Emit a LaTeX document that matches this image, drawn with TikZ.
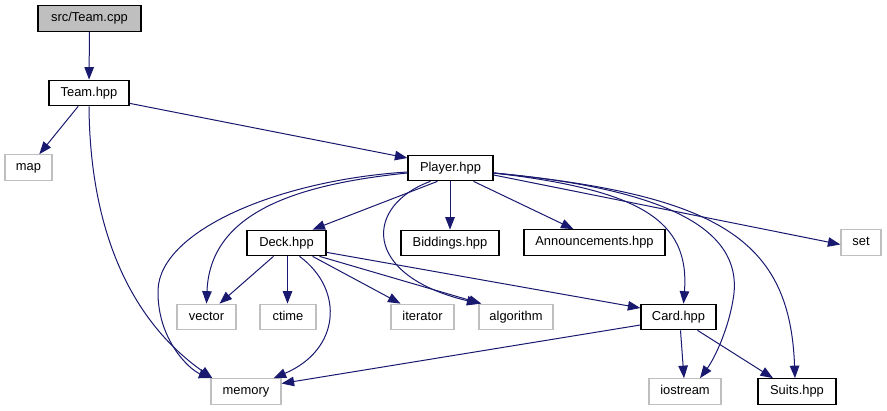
\documentclass[tikz,border=0pt]{standalone}
\usepackage{fontspec}
\setmainfont{Liberation Sans}
\usetikzlibrary{arrows.meta,calc}
\definecolor{edgec}{HTML}{191970}
\definecolor{grayb}{HTML}{BFBFBF}
\begin{document}
\begin{tikzpicture}[x=1pt,y=-1pt,
  box/.style={draw=black, fill=white, line width=1.2pt, inner sep=0pt,
    minimum height=25.5pt, font=\fontsize{12.9}{15}\selectfont,
    text height=9.4pt, text depth=2.6pt},
  ext/.style={box, draw=grayb},
  edge/.style={draw=edgec, line width=1pt, -{Triangle[length=12.5pt,width=9.5pt]}}]
\useasboundingbox[fill=white] (0,0) rectangle (887,411);

% nodes
\node[box, fill=grayb, minimum width=103pt] (teamcpp) at (89.5,18.5) {src/Team.cpp};
\node[box, minimum width=80pt] (teamhpp) at (89,93) {Team.hpp};
\node[ext, minimum width=47pt] (map) at (28.5,167.5) {map};
\node[box, minimum width=85pt] (player) at (450.5,168) {Player.hpp};
\node[box, minimum width=79pt] (deck) at (286.5,243) {Deck.hpp};
\node[box, minimum width=98pt] (biddings) at (450,243) {Biddings.hpp};
\node[box, minimum width=141pt] (announce) at (594.5,242.5) {Announcements.hpp};
\node[ext, minimum width=40pt] (set) at (861,242.5) {set};
\node[ext, minimum width=59pt] (vector) at (206.5,317) {vector};
\node[ext, minimum width=56pt] (ctime) at (288,317) {ctime};
\node[ext, minimum width=63pt] (iterator) at (422.5,317) {iterator};
\node[ext, minimum width=74pt] (algorithm) at (516,317) {algorithm};
\node[box, minimum width=75pt] (card) at (678.5,317) {Card.hpp};
\node[ext, minimum width=70pt] (memory) at (246,391.5) {memory};
\node[ext, minimum width=72pt] (iostream) at (685,391.5) {iostream};
\node[box, minimum width=78pt] (suits) at (797,391.5) {Suits.hpp};

% edges
\draw[edge] (teamcpp) -- (teamhpp);
\draw[edge] (teamhpp) -- (map);
\draw[edge] ($(teamhpp.south east)+(0,-3)$) -- ($(player.west)+(0,-10)$);
\draw[edge] (teamhpp.south) .. controls (90,230) and (130,320) .. ($(memory.north west)+(2,0)$);

\draw[edge] ($(player.west)+(0,4)$) .. controls (280,180) and (160,230) .. (158,290)
   .. controls (157,340) and (190,370) .. ($(memory.north west)+(1,0)$);
\draw[edge] ($(player.west)+(0,5)$) .. controls (290,185) and (210,215) .. (vector.north);
\draw[edge] ($(player.south)+(-13,0)$) -- ($(deck.north)+(26,0)$);
\draw[edge] ($(player.south)+(-20,0)$) .. controls (365,205) and (360,275) .. ($(algorithm.north west)+(1,0)$);
\draw[edge] (player.south -| biddings.north) -- (biddings.north);
\draw[edge] ($(player.south)+(23,0)$) -- ($(announce.north)+(-21,0)$);
\draw[edge] ($(player.east)+(0,7)$) -- ($(set.west)+(0,2)$);
\draw[edge] ($(player.east)+(0,5)$) .. controls (640,190) and (690,220) .. ($(card.north)+(5,0)$);
\draw[edge] ($(player.east)+(0,5)$) .. controls (680,190) and (745,235) .. (733,300)
   .. controls (727,335) and (712,362) .. ($(iostream.north)+(15,0)$);
\draw[edge] ($(player.east)+(0,5)$) .. controls (720,195) and (790,240) .. ($(suits.north)+(-2,0)$);

\draw[edge] ($(deck.south)+(-13,0)$) -- ($(vector.north)+(13,0)$);
\draw[edge] ($(deck.south)+(1,0)$) -- ($(ctime.north)+(-0.5,0)$);
\draw[edge] ($(deck.south)+(13,0)$) .. controls (345,290) and (340,350) .. ($(memory.north east)+(-8,0)$);
\draw[edge] ($(deck.south)+(26,0)$) -- ($(iterator.north)+(-22,0)$);
\draw[edge] ($(deck.south)+(33,0)$) -- ($(algorithm.north west)+(3,0)$);
\draw[edge] ($(deck.south east)+(0,-4)$) -- ($(card.west)+(0,-9)$);

\draw[edge] ($(card.west)+(0,8)$) -- ($(memory.east)+(0,-8)$);
\draw[edge] ($(card.south)+(2,0)$) -- ($(iostream.north)+(-1,0)$);
\draw[edge] ($(card.south)+(19,0)$) -- ($(suits.north)+(-24,0)$);
\end{tikzpicture}
\end{document}
